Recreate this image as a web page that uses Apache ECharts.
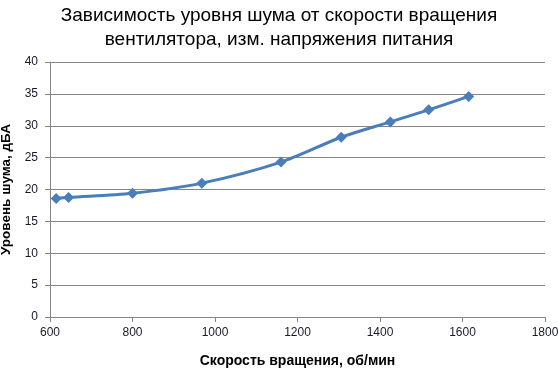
<!DOCTYPE html>
<html><head><meta charset="utf-8">
<script src="https://cdn.jsdelivr.net/npm/echarts@6/dist/echarts.min.js"></script>
<style>html,body{margin:0;padding:0;background:#fff}#c{width:558px;height:370px}</style>
</head><body><div id="c"></div>
<script>
const titleText = 'Зависимость уровня шума от скорости вращения\nвентилятора, изм. напряжения питания';
const xName = 'Скорость вращения, об/мин';
const yName = 'Уровень шума, дБА';
const speed = [615, 645, 800, 968, 1160, 1306, 1425, 1518, 1615];
const noise = [18.6, 18.75, 19.4, 21.0, 24.3, 28.2, 30.6, 32.5, 34.6];
const pts = speed.map((s, i) => [s, noise[i]]);
const chart = echarts.init(document.getElementById('c'));
const lbl = {color: '#1a1a2a', fontFamily: 'Liberation Sans', fontSize: 12, formatter: v => String(v)};
chart.setOption({
  animation: false,
  title: {text: titleText, left: 'center', top: -1,
    textStyle: {fontFamily: 'Liberation Sans', fontSize: 19, fontWeight: 'normal', color: '#000', lineHeight: 24}},
  grid: {left: 50, right: 13, top: 62, bottom: 53, containLabel: false, outerBoundsMode: 'none'},
  xAxis: {type: 'value', min: 600, max: 1800, interval: 200,
    name: xName, nameLocation: 'middle', nameGap: 37,
    nameTextStyle: {fontFamily: 'Liberation Sans', fontSize: 14, fontWeight: 'bold', color: '#000'},
    axisLine: {show: true, lineStyle: {color: '#868686'}},
    axisTick: {show: true, length: 5, lineStyle: {color: '#868686'}},
    splitLine: {show: false},
    axisLabel: Object.assign({margin: 10}, lbl)},
  yAxis: {type: 'value', min: 0, max: 40, interval: 5,
    name: yName, nameLocation: 'middle', nameGap: 34,
    nameTextStyle: {fontFamily: 'Liberation Sans', fontSize: 13.5, fontWeight: 'bold', color: '#000'},
    axisLine: {show: true, lineStyle: {color: '#868686'}},
    axisTick: {show: true, length: 5, lineStyle: {color: '#868686'}},
    splitLine: {show: true, lineStyle: {color: '#868686'}},
    axisLabel: Object.assign({margin: 12}, lbl)},
  series: [{type: 'line', data: pts, smooth: 0.3,
    symbol: 'diamond', symbolSize: 11,
    lineStyle: {color: '#4a7ebb', width: 3},
    itemStyle: {color: '#4a7ebb'}}]
});
</script></body></html>
